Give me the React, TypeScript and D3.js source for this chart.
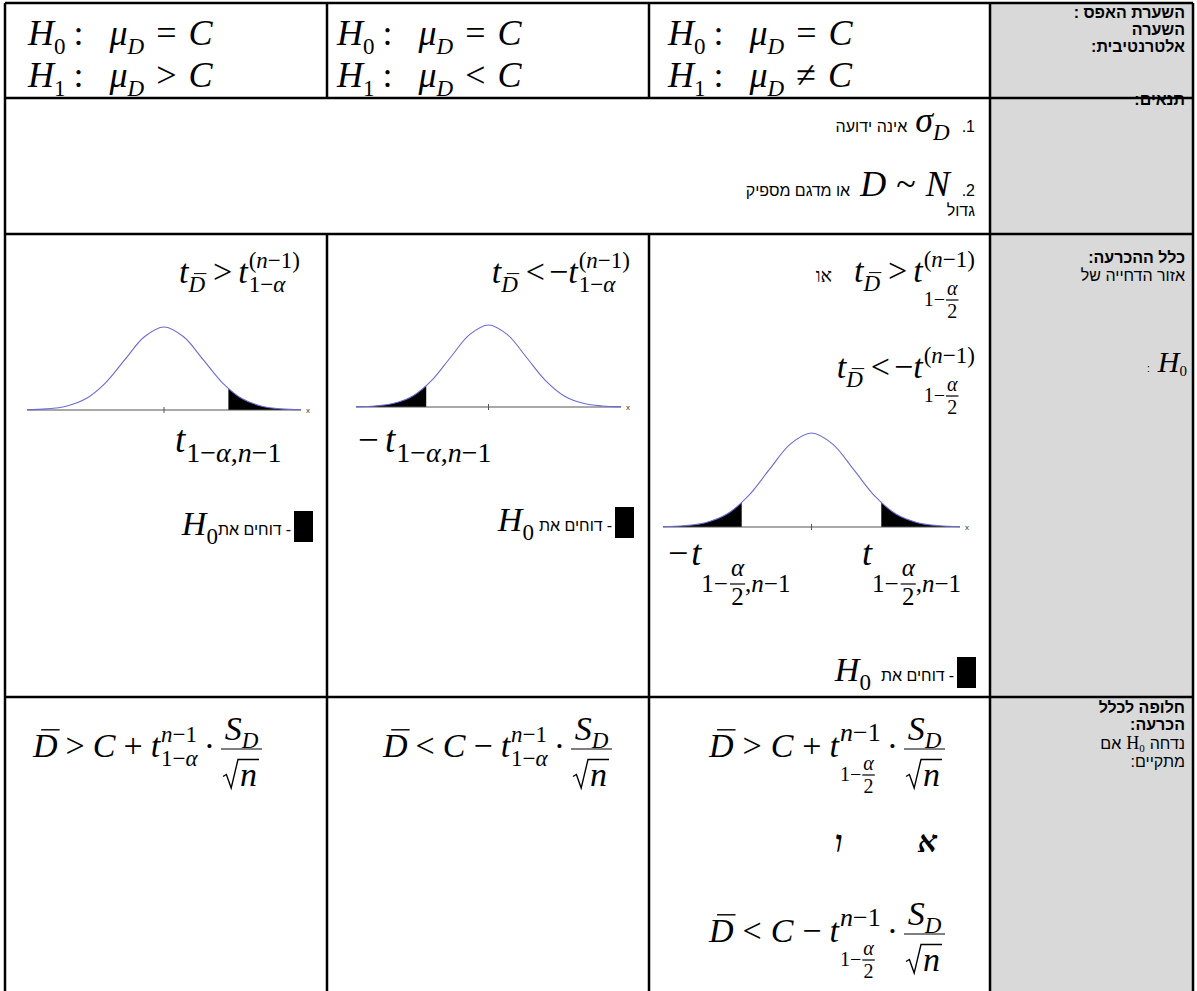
import { useEffect, useRef } from 'react'
import * as d3 from 'd3'

const W = 1197
const H = 991
const FS = "'Liberation Serif', 'Times New Roman', serif"
const FH = "'Liberation Sans', Arial, sans-serif"
const M = 34
const S = 23
const SS = 20
const HS = 16

// table grid
const colX = [5, 327, 649, 990, 1193]
const rowY = [3, 98, 234, 697, 1020]

// content
const hypSubs = ['0', '1']
const altOps = ['>', '<', '≠']
const header1 = ['השערת האפס :', 'השערה', 'אלטרנטיבית:']
const header2 = ['תנאים:']
const header3 = ['כלל ההכרעה:']
const header3b = 'אזור הדחייה של'
const header4 = ['חלופה לכלל', 'הכרעה:']
const header4b = ['נדחה', 'אם']
const header4c = 'מתקיים:'
const cond1 = ['1', 'אינה ידועה']
const cond2 = ['2', 'או מדגם מספיק', 'גדול']
const rejectText = 'דוחים את'
const orWord = 'או'
const andLetters = ['ו', 'א']

// normal curve readings (relative height vs z)
const zGrid = [-3.5, -3, -2.5, -2, -1.5, -1, -0.5, 0, 0.5, 1, 1.5, 2, 2.5, 3, 3.5]
const density = [0.004, 0.013, 0.046, 0.135, 0.325, 0.607, 0.882, 1, 0.882, 0.607, 0.325, 0.135, 0.046, 0.013, 0.004]
const zCut = 1.645
const tailSides = [['right'], ['left'], ['left', 'right']]

type Item = any

const T = (s: string, size = M, dy = 0): Item => ({ k: 'txt', s, size, dy, it: true, f: FS })
const U = (s: string, size = M, dy = 0): Item => ({ k: 'txt', s, size, dy, it: false, f: FS })
const HB = (s: string, size = HS, dy = 0, bold = false): Item => ({ k: 'txt', s, size, dy, it: false, f: FH, bold })
const SP = (w: number): Item => ({ k: 'sp', w })
const BAR = (s: string, size = M, dy = 0): Item => ({ k: 'bar', s, size, dy })
const STACK = (sup: Item[], sub: Item[]): Item => ({ k: 'stack', sup, sub })
const FRAC = (num: Item[], den: Item[], line: number, nd: number, dd: number, pad = 1): Item => ({ k: 'frac', num, den, line, nd, dd, pad })
const SQRT = (body: Item[], size = M): Item => ({ k: 'sqrt', body, size })
const BOX = (w: number, h: number, dy: number): Item => ({ k: 'box', w, h, dy })

function place(g: any, items: Item[], x: number, y: number): number {
  let cx = x
  for (const it of items) cx += one(g, it, cx, y)
  return cx - x
}

function one(g: any, it: Item, x: number, y: number): number {
  switch (it.k) {
    case 'sp':
      return it.w
    case 'txt': {
      const t = g.append('text')
        .attr('x', x).attr('y', y + it.dy)
        .attr('font-family', it.f).attr('font-size', it.size)
        .attr('font-style', it.it ? 'italic' : 'normal')
        .attr('font-weight', it.bold ? 'bold' : 'normal')
        .attr('fill', '#000')
        .text(it.s)
      return (t.node() as SVGTextElement).getComputedTextLength()
    }
    case 'bar': {
      const w = one(g, { k: 'txt', s: it.s, size: it.size, dy: it.dy, it: true, f: FS }, x, y)
      const by = y + it.dy - it.size * 0.8
      g.append('line')
        .attr('x1', x + it.size * 0.24).attr('x2', x + w + it.size * 0.06)
        .attr('y1', by).attr('y2', by)
        .attr('stroke', '#000').attr('stroke-width', Math.max(1, it.size / 24))
      return w
    }
    case 'stack':
      return Math.max(place(g, it.sup, x, y), place(g, it.sub, x, y))
    case 'frac': {
      const gn = g.append('g')
      const gd = g.append('g')
      const wn = place(gn, it.num, 0, y + it.line + it.nd)
      const wd = place(gd, it.den, 0, y + it.line + it.dd)
      const w = Math.max(wn, wd) + 2 * it.pad
      gn.attr('transform', `translate(${x + (w - wn) / 2},0)`)
      gd.attr('transform', `translate(${x + (w - wd) / 2},0)`)
      g.append('line')
        .attr('x1', x).attr('x2', x + w)
        .attr('y1', y + it.line).attr('y2', y + it.line)
        .attr('stroke', '#000').attr('stroke-width', 1.2)
      return w
    }
    case 'sqrt': {
      const s = it.size
      const rw = s * 0.5
      const wb = place(g, it.body, x + rw, y)
      const top = y - s * 0.78
      g.append('path')
        .attr('d', `M${x},${y - s * 0.28} L${x + s * 0.1},${y - s * 0.34} L${x + s * 0.24},${y + s * 0.06} L${x + rw - 2},${top} L${x + rw + wb + 2},${top}`)
        .attr('fill', 'none').attr('stroke', '#000').attr('stroke-width', 1.4)
      return rw + wb + 3
    }
    case 'box':
      g.append('rect').attr('x', x).attr('y', y + it.dy).attr('width', it.w).attr('height', it.h).attr('fill', '#000')
      return it.w
  }
  return 0
}

function put(root: any, items: Item[], x: number, y: number, anchor = 'start') {
  const g = root.append('g')
  const w = place(g, items, 0, y)
  g.attr('transform', `translate(${anchor === 'end' ? x - w : x},0)`)
  return w
}

function heb(root: any, s: string, xRight: number, y: number, size = HS, bold = false) {
  root.append('text')
    .attr('x', xRight).attr('y', y)
    .attr('direction', 'rtl').style('direction', 'rtl')
    .attr('text-anchor', 'start')
    .attr('font-family', FH).attr('font-size', size)
    .attr('font-weight', bold ? 'bold' : 'normal')
    .attr('fill', '#000')
    .text(s)
}

export default function App() {
  const ref = useRef<SVGSVGElement>(null)

  useEffect(() => {
    const svg = d3.select(ref.current)
    svg.selectAll('*').remove()

    // header column background
    svg.append('rect')
      .attr('x', colX[3]).attr('y', rowY[0])
      .attr('width', colX[4] - colX[3]).attr('height', rowY[4] - rowY[0])
      .attr('fill', '#d9d9d9')

    // grid lines
    const grid = svg.append('g').attr('stroke', '#000').attr('stroke-width', 2.5)
    rowY.slice(0, 4).forEach((y) => {
      grid.append('line').attr('x1', colX[0]).attr('x2', colX[4]).attr('y1', y).attr('y2', y)
    })
    colX.forEach((x, i) => {
      const inner = i === 1 || i === 2
      if (inner) {
        grid.append('line').attr('x1', x).attr('x2', x).attr('y1', rowY[0]).attr('y2', rowY[1])
        grid.append('line').attr('x1', x).attr('x2', x).attr('y1', rowY[2]).attr('y2', rowY[4])
      } else {
        grid.append('line').attr('x1', x).attr('x2', x).attr('y1', rowY[0]).attr('y2', rowY[4])
      }
    })

    const txtRight = colX[4] - 8

    // ---- row 1: hypotheses
    const hypX = [28, 337, 668]
    altOps.forEach((op, c) => {
      hypSubs.forEach((sub, r) => {
        const items = [T('H', 36), U(sub, S, 9), SP(8), U(':', 36), SP(26), T('μ', 36), T('D', S, 9), SP(12), U(r === 0 ? '=' : op, 36), SP(12), T('C', 36)]
        put(svg, items, hypX[c], r === 0 ? 45 : 87)
      })
    })
    header1.forEach((s, i) => heb(svg, s, txtRight, 18 + i * 17, HS, true))

    // ---- row 2: conditions
    const condRight = colX[3] - 15
    put(svg, [HB(cond1[1]), SP(8), T('σ', 36), T('D', S, 8), SP(12), HB('.'), HB(cond1[0])], condRight, 132, 'end')
    put(svg, [HB(cond2[1]), SP(10), T('D', 36), SP(10), U('~', 36), SP(10), T('N', 36), SP(12), HB('.'), HB(cond2[0])], condRight, 196, 'end')
    heb(svg, cond2[2], condRight, 216, HS)
    header2.forEach((s, i) => heb(svg, s, txtRight, 105 + i * 17, HS, true))

    // ---- row 3: decision rule
    const tD = [T('t'), BAR('D', S, 9)]
    const supParen = [U('(', S, -15), T('n', S, -15), U('−1)', S, -15)]
    const subA = [U('1−', S, 9), T('α', S, 9)]
    const subA2 = [U('1−', SS, 24), SP(1), FRAC([T('α', SS)], [U('2', SS)], 18, -5, 18)]

    put(svg, [...tD, SP(8), U('>'), SP(6), T('t'), SP(1), STACK(supParen, subA)], 300, 283, 'end')
    put(svg, [...tD, SP(8), U('<'), SP(4), U('−'), T('t'), SP(1), STACK(supParen, subA)], 630, 283, 'end')
    put(svg, [U(orWord, 19), SP(22), ...tD, SP(8), U('>'), SP(6), T('t'), SP(1), STACK(supParen, subA2)], 975, 282, 'end')
    put(svg, [...tD, SP(8), U('<'), SP(4), U('−'), T('t'), SP(1), STACK(supParen, subA2)], 975, 378, 'end')

    // curves
    const panels = [
      { x0: 27, x1: 301, base: 410, peak: 327 },
      { x0: 356, x1: 621, base: 407, peak: 325 },
      { x0: 663, x1: 960, base: 527, peak: 433 },
    ]
    const pts = zGrid.map((z, i) => [z, density[i]] as [number, number])
    panels.forEach((p, i) => {
      const x = d3.scaleLinear().domain([zGrid[0], zGrid[zGrid.length - 1]]).range([p.x0, p.x1])
      const y = d3.scaleLinear().domain([0, 1]).range([p.base, p.peak])
      const area = d3.area<[number, number]>().x((d) => x(d[0])).y0(p.base).y1((d) => y(d[1])).curve(d3.curveCatmullRom)
      const line = d3.line<[number, number]>().x((d) => x(d[0])).y((d) => y(d[1])).curve(d3.curveCatmullRom)
      const g = svg.append('g')
      tailSides[i].forEach((side) => {
        const id = `clip-${i}-${side}`
        const lo = side === 'right' ? x(zCut) : x.range()[0]
        const hi = side === 'right' ? x.range()[1] : x(-zCut)
        g.append('clipPath').attr('id', id)
          .append('rect').attr('x', lo).attr('y', p.peak - 5).attr('width', hi - lo).attr('height', p.base - p.peak + 6)
        g.append('path').attr('d', area(pts)).attr('fill', '#000').attr('clip-path', `url(#${id})`)
      })
      g.append('line').attr('x1', p.x0).attr('x2', p.x1).attr('y1', p.base).attr('y2', p.base)
        .attr('stroke', '#555').attr('stroke-width', 1.2)
      g.append('line').attr('x1', x(0)).attr('x2', x(0)).attr('y1', p.base - 3).attr('y2', p.base + 3)
        .attr('stroke', '#555').attr('stroke-width', 1)
      g.append('path').attr('d', line(pts)).attr('fill', 'none').attr('stroke', '#6b6bd6').attr('stroke-width', 1.1)
      g.append('text').attr('x', p.x1 + 5).attr('y', p.base + 3).attr('font-family', FH).attr('font-size', 8).attr('fill', '#333').text('x')
    })

    // labels under curves
    const L = 28
    const subLbl = [U('1−', L, 10), T('α', L, 10), U(',', L, 10), T('n', L, 10), U('−1', L, 10)]
    put(svg, [T('t', 37), SP(1), ...subLbl], 175, 452)
    put(svg, [U('−', 37), SP(6), T('t', 37), SP(1), ...subLbl], 358, 452)
    const L2 = 25
    const subLbl2 = [U('1−', L2, 27), SP(2), FRAC([T('α', L2)], [U('2', L2)], 19, -8, 21), U(',', L2, 27), T('n', L2, 27), U('−1', L2, 27)]
    put(svg, [U('−', 36), SP(3), T('t', 36), ...subLbl2], 668, 565)
    put(svg, [T('t', 36), ...subLbl2], 862, 565)

    // legends
    const legend = (gap: number) => [T('H'), U('0', S, 9), SP(gap), HB(rejectText), SP(4), HB('-'), SP(3), BOX(19, 31, -24)]
    put(svg, legend(0), 313, 535, 'end')
    put(svg, legend(5), 634, 531, 'end')
    put(svg, legend(10), 976, 681, 'end')

    header3.forEach((s, i) => heb(svg, s, txtRight, 263 + i * 17, HS, true))
    heb(svg, header3b, txtRight, 281, HS)
    put(svg, [HB(':', 10), SP(8), T('H', 30), U('0', 15, 4)], colX[4] - 6, 372, 'end')

    // ---- row 4: alternative rule
    const supN = [T('n', S, -15), U('−1', S, -15)]
    const supN3 = [T('n', 26, -16), U('−1', 26, -16)]
    const fracS = FRAC([T('S'), T('D', S, 8)], [SQRT([T('n')])], -8, -9, 37, 2)
    put(svg, [BAR('D'), SP(8), U('>'), SP(8), T('C'), SP(8), U('+'), SP(8), T('t'), SP(1), STACK(supN, subA), SP(6), U('·'), SP(6), fracS], 262, 757, 'end')
    put(svg, [BAR('D'), SP(8), U('<'), SP(8), T('C'), SP(8), U('−'), SP(8), T('t'), SP(1), STACK(supN, subA), SP(6), U('·'), SP(6), fracS], 612, 757, 'end')
    put(svg, [BAR('D'), SP(9), U('>'), SP(9), T('C'), SP(9), U('+'), SP(8), T('t'), SP(1), STACK(supN3, subA2), SP(6), U('·'), SP(6), fracS], 945, 757, 'end')
    put(svg, [BAR('D'), SP(9), U('<'), SP(9), T('C'), SP(9), U('−'), SP(8), T('t'), SP(1), STACK(supN3, subA2), SP(6), U('·'), SP(6), fracS], 945, 942, 'end')
    svg.append('text').attr('x', 835).attr('y', 852).attr('font-family', FS).attr('font-size', 30)
      .attr('font-style', 'italic').attr('font-weight', 'bold').text(andLetters[0])
    svg.append('text').attr('x', 918).attr('y', 852).attr('font-family', FS).attr('font-size', 30)
      .attr('font-style', 'italic').attr('font-weight', 'bold').text(andLetters[1])

    header4.forEach((s, i) => heb(svg, s, txtRight, 713 + i * 17, HS, true))
    put(svg, [HB(header4b[1]), SP(5), U('H', 18), U('0', 11, 3), SP(5), HB(header4b[0])], txtRight, 749, 'end')
    heb(svg, header4c, txtRight, 767, HS)
  }, [])

  return (
    <svg
      ref={ref}
      width={W}
      height={H}
      style={{ position: 'absolute', left: 0, top: 0, background: '#fff' }}
    />
  )
}
